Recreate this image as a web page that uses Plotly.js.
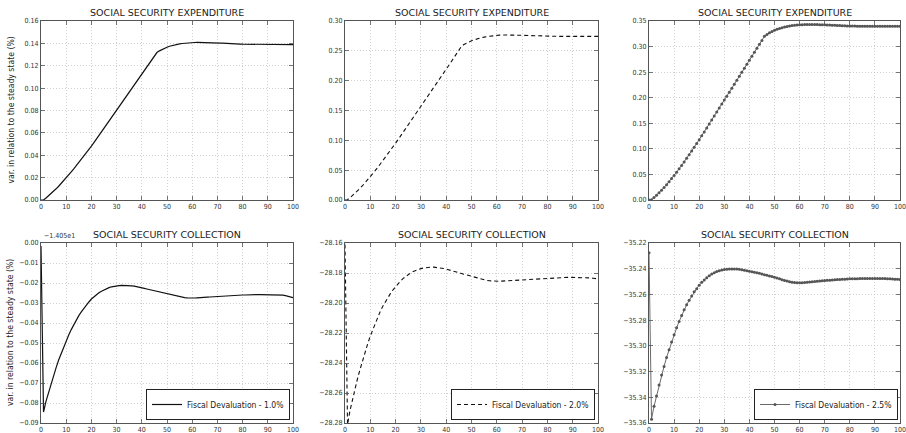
<!DOCTYPE html>
<html>
<head>
<meta charset="utf-8">
<script src="https://cdn.plot.ly/plotly-3.0.1.min.js"></script>
<style>html,body{margin:0;padding:0;background:#fff;}#chart{width:906px;height:433px;}</style>
</head>
<body>
<div id="chart"></div>
<script>
const periods = Array.from({length: 101}, (_, i) => i);

const panelTitles = ["SOCIAL SECURITY EXPENDITURE", "SOCIAL SECURITY EXPENDITURE", "SOCIAL SECURITY EXPENDITURE",
                     "SOCIAL SECURITY COLLECTION", "SOCIAL SECURITY COLLECTION", "SOCIAL SECURITY COLLECTION"];
const seriesNames = ["Fiscal Devaluation - 1.0%", "Fiscal Devaluation - 2.0%", "Fiscal Devaluation - 2.5%"];
const yAxisLabel = "var. in relation to the steady state (%)";
const offsetLabel = "\u22121.405e1";

const expFD10 = [0.0000,0.0000,0.0018,0.0037,0.0057,0.0078,0.0100,0.0123,0.0147,0.0172,
 0.0198,0.0224,0.0251,0.0278,0.0306,0.0334,0.0363,0.0392,0.0421,0.0451,
 0.0481,0.0513,0.0545,0.0578,0.0611,0.0644,0.0677,0.0710,0.0743,0.0776,
 0.0809,0.0841,0.0873,0.0905,0.0937,0.0969,0.1001,0.1033,0.1065,0.1097,
 0.1129,0.1160,0.1191,0.1222,0.1253,0.1285,0.1318,0.1333,0.1346,0.1357,
 0.1366,0.1374,0.1381,0.1387,0.1392,0.1396,0.1399,0.1402,0.1404,0.1406,
 0.1407,0.1408,0.1409,0.1409,0.1409,0.1409,0.1408,0.1407,0.1406,0.1405,
 0.1404,0.1403,0.1402,0.1400,0.1399,0.1398,0.1397,0.1396,0.1395,0.1394,
 0.1393,0.1393,0.1392,0.1392,0.1391,0.1391,0.1391,0.1390,0.1390,0.1390,
 0.1390,0.1390,0.1390,0.1390,0.1389,0.1389,0.1389,0.1389,0.1389,0.1389,
 0.1389];

const expFD20 = [0.0000,0.0005,0.0038,0.0075,0.0114,0.0155,0.0198,0.0243,0.0290,0.0339,
 0.0390,0.0442,0.0495,0.0549,0.0604,0.0660,0.0717,0.0775,0.0834,0.0893,
 0.0953,0.1013,0.1074,0.1135,0.1197,0.1259,0.1321,0.1383,0.1446,0.1509,
 0.1572,0.1635,0.1698,0.1760,0.1822,0.1884,0.1946,0.2008,0.2069,0.2130,
 0.2190,0.2254,0.2318,0.2382,0.2446,0.2510,0.2574,0.2605,0.2630,0.2651,
 0.2669,0.2685,0.2699,0.2711,0.2721,0.2730,0.2738,0.2745,0.2751,0.2756,
 0.2760,0.2763,0.2765,0.2766,0.2767,0.2767,0.2766,0.2765,0.2764,0.2762,
 0.2760,0.2758,0.2756,0.2754,0.2752,0.2750,0.2749,0.2748,0.2747,0.2746,
 0.2745,0.2744,0.2744,0.2743,0.2743,0.2743,0.2742,0.2742,0.2742,0.2742,
 0.2742,0.2742,0.2742,0.2742,0.2742,0.2742,0.2742,0.2742,0.2742,0.2742,
 0.2742];

const expFD25 = [0.0000,0.0005,0.0048,0.0094,0.0142,0.0192,0.0245,0.0300,0.0358,0.0418,
 0.0480,0.0544,0.0610,0.0677,0.0745,0.0815,0.0886,0.0958,0.1031,0.1105,
 0.1180,0.1256,0.1332,0.1409,0.1486,0.1563,0.1641,0.1719,0.1797,0.1875,
 0.1953,0.2031,0.2109,0.2187,0.2265,0.2343,0.2421,0.2499,0.2577,0.2655,
 0.2733,0.2811,0.2889,0.2966,0.3043,0.3120,0.3200,0.3238,0.3270,0.3297,
 0.3319,0.3338,0.3355,0.3369,0.3382,0.3393,0.3402,0.3410,0.3417,0.3422,
 0.3426,0.3429,0.3431,0.3432,0.3433,0.3433,0.3432,0.3431,0.3429,0.3427,
 0.3425,0.3422,0.3420,0.3417,0.3415,0.3412,0.3410,0.3408,0.3406,0.3404,
 0.3402,0.3401,0.3400,0.3399,0.3398,0.3397,0.3397,0.3396,0.3396,0.3396,
 0.3396,0.3396,0.3396,0.3396,0.3396,0.3396,0.3396,0.3395,0.3395,0.3395,
 0.3395];

// bottom-left panel: values relative to the offset -1.405e1
const colFD10 = [-0.0015,-0.0845,-0.0791,-0.0747,-0.0701,-0.0659,-0.0623,-0.0585,-0.0552,-0.0520,
 -0.0489,-0.0460,-0.0433,-0.0408,-0.0384,-0.0363,-0.0344,-0.0326,-0.0308,-0.0295,
 -0.0280,-0.0268,-0.0258,-0.0249,-0.0241,-0.0234,-0.0228,-0.0223,-0.0219,-0.0216,
 -0.0214,-0.0213,-0.0212,-0.0212,-0.0212,-0.0213,-0.0214,-0.0216,-0.0218,-0.0221,
 -0.0224,-0.0227,-0.0230,-0.0233,-0.0236,-0.0240,-0.0243,-0.0246,-0.0249,-0.0252,
 -0.0255,-0.0258,-0.0261,-0.0264,-0.0267,-0.0269,-0.0271,-0.0273,-0.0274,-0.0275,
 -0.0275,-0.0275,-0.0274,-0.0274,-0.0273,-0.0272,-0.0271,-0.0270,-0.0269,-0.0268,
 -0.0267,-0.0266,-0.0265,-0.0264,-0.0264,-0.0263,-0.0262,-0.0262,-0.0261,-0.0261,
 -0.0260,-0.0260,-0.0259,-0.0259,-0.0259,-0.0258,-0.0258,-0.0258,-0.0258,-0.0258,
 -0.0258,-0.0258,-0.0258,-0.0259,-0.0259,-0.0260,-0.0261,-0.0263,-0.0266,-0.0269,
 -0.0273];

const colFD20 = [-28.1610,-28.2810,-28.2715,-28.2640,-28.2570,-28.2500,-28.2440,-28.2380,-28.2325,-28.2270,
 -28.2220,-28.2175,-28.2130,-28.2090,-28.2053,-28.2020,-28.1990,-28.1962,-28.1936,-28.1912,
 -28.1890,-28.1870,-28.1852,-28.1836,-28.1822,-28.1810,-28.1799,-28.1790,-28.1782,-28.1776,
 -28.1771,-28.1767,-28.1764,-28.1762,-28.1761,-28.1761,-28.1762,-28.1764,-28.1767,-28.1770,
 -28.1774,-28.1778,-28.1783,-28.1788,-28.1793,-28.1798,-28.1803,-28.1808,-28.1813,-28.1818,
 -28.1823,-28.1828,-28.1833,-28.1838,-28.1842,-28.1846,-28.1849,-28.1852,-28.1854,-28.1855,
 -28.1855,-28.1855,-28.1854,-28.1853,-28.1852,-28.1851,-28.1849,-28.1848,-28.1846,-28.1845,
 -28.1843,-28.1842,-28.1840,-28.1839,-28.1838,-28.1837,-28.1836,-28.1835,-28.1834,-28.1833,
 -28.1832,-28.1831,-28.1831,-28.1830,-28.1830,-28.1830,-28.1829,-28.1829,-28.1829,-28.1829,
 -28.1829,-28.1829,-28.1829,-28.1830,-28.1830,-28.1831,-28.1832,-28.1833,-28.1835,-28.1837,
 -28.1839];

const colFD25 = [-35.2275,-35.3570,-35.3470,-35.3390,-35.3305,-35.3227,-35.3160,-35.3090,-35.3030,-35.2970,
 -35.2914,-35.2860,-35.2810,-35.2763,-35.2720,-35.2680,-35.2646,-35.2612,-35.2580,-35.2555,
 -35.2528,-35.2506,-35.2487,-35.2470,-35.2455,-35.2442,-35.2431,-35.2422,-35.2415,-35.2410,
 -35.2406,-35.2404,-35.2403,-35.2402,-35.2402,-35.2403,-35.2405,-35.2408,-35.2411,-35.2415,
 -35.2419,-35.2423,-35.2427,-35.2432,-35.2436,-35.2441,-35.2446,-35.2451,-35.2456,-35.2461,
 -35.2467,-35.2473,-35.2479,-35.2485,-35.2491,-35.2496,-35.2501,-35.2505,-35.2508,-35.2510,
 -35.2510,-35.2509,-35.2508,-35.2506,-35.2504,-35.2502,-35.2500,-35.2498,-35.2496,-35.2494,
 -35.2492,-35.2490,-35.2489,-35.2487,-35.2486,-35.2484,-35.2483,-35.2482,-35.2481,-35.2480,
 -35.2479,-35.2479,-35.2478,-35.2478,-35.2477,-35.2477,-35.2476,-35.2476,-35.2476,-35.2476,
 -35.2476,-35.2476,-35.2476,-35.2477,-35.2477,-35.2478,-35.2479,-35.2480,-35.2481,-35.2482,
 -35.2483];

const yRanges = [[0, 0.16], [0, 0.30], [0, 0.35], [-0.09, 0], [-28.28, -28.16], [-35.36, -35.22]];
const yDticks = [0.02, 0.05, 0.05, 0.01, 0.02, 0.02];
const xTickVals = [0, 10, 20, 30, 40, 50, 60, 70, 80, 90, 100];

const W = 906, H = 433;
const colPx = [[41, 293], [345, 598], [649, 900]];
const rowPx = [[21, 200], [243, 423]];
const FONT = "'DejaVu Sans Condensed', 'Liberation Sans Narrow', 'DejaVu Sans', sans-serif";
const TFONT = "'DejaVu Sans', sans-serif";

const layout = {
  width: W, height: H,
  margin: {l: 0, r: 0, t: 0, b: 0},
  paper_bgcolor: '#ffffff', plot_bgcolor: '#ffffff',
  showlegend: true,
  font: {family: FONT, size: 7, color: '#222'},
  annotations: [],
};

for (let i = 0; i < 6; i++) {
  const r = Math.floor(i / 3), c = i % 3;
  const sfx = i === 0 ? '' : String(i + 1);
  const xd = [colPx[c][0] / W, colPx[c][1] / W];
  const yd = [1 - rowPx[r][1] / H, 1 - rowPx[r][0] / H];
  const common = {
    showline: true, linecolor: '#555', linewidth: 1, mirror: 'ticks',
    ticks: 'inside', ticklen: 4, tickcolor: '#555', tickwidth: 0.8,
    showgrid: true, gridcolor: '#c4c4c4', griddash: '1px,2px', gridwidth: 0.8,
    zeroline: false, fixedrange: true, ticklabeloverflow: 'allow',
    tickfont: {family: FONT, size: 7, color: '#333'},
  };
  layout['xaxis' + sfx] = Object.assign({}, common, {
    domain: xd, anchor: 'y' + sfx, range: [0, 100],
    tickmode: 'array', tickvals: xTickVals, ticktext: xTickVals.map(String),
  });
  layout['yaxis' + sfx] = Object.assign({}, common, {
    domain: yd, anchor: 'x' + sfx, range: yRanges[i],
    tick0: yRanges[i][0], dtick: yDticks[i], tickformat: '.2f',
  });
  layout.annotations.push({
    xref: 'paper', yref: 'paper', x: (xd[0] + xd[1]) / 2, y: yd[1],
    xanchor: 'center', yanchor: 'bottom', yshift: 1,
    text: panelTitles[i], showarrow: false,
    font: {family: TFONT, size: 9.5, color: '#1a1a1a'},
  });
}

// y axis labels (left column)
[0, 1].forEach(r => {
  layout.annotations.push({
    xref: 'paper', yref: 'paper', x: 10 / W, y: 1 - (rowPx[r][0] + rowPx[r][1]) / 2 / H,
    xanchor: 'center', yanchor: 'middle', textangle: -90,
    text: yAxisLabel, showarrow: false,
    font: {family: FONT, size: 8.6, color: '#222'},
  });
});
// offset text for bottom-left panel
layout.annotations.push({
  xref: 'paper', yref: 'paper', x: 42 / W, y: 1 - 243 / H,
  xanchor: 'left', yanchor: 'bottom', yshift: 1, text: offsetLabel, showarrow: false,
  font: {family: FONT, size: 7, color: '#333'},
});

const legendBase = {
  bgcolor: '#ffffff', bordercolor: '#222', borderwidth: 1,
  font: {family: FONT, size: 8.5, color: '#222'},
  xanchor: 'right', yanchor: 'bottom', itemwidth: 30, tracegroupgap: 0,
  itemclick: false, itemdoubleclick: false,
};
layout.legend = Object.assign({}, legendBase, {x: 290 / W, y: 1 - 420 / H});
layout.legend2 = Object.assign({}, legendBase, {x: 595 / W, y: 1 - 420 / H});
layout.legend3 = Object.assign({}, legendBase, {x: 898 / W, y: 1 - 420 / H});

const styles = [
  {mode: 'lines', line: {color: '#111', width: 1.2, dash: 'solid'}},
  {mode: 'lines', line: {color: '#111', width: 1.1, dash: '4px,3px'}},
  {mode: 'lines+markers', line: {color: '#6a6a6a', width: 1}, marker: {symbol: 'circle', size: 3, color: '#555'}},
];
const expSeries = [expFD10, expFD20, expFD25];
const colSeries = [colFD10, colFD20, colFD25];
const legendIds = ['legend', 'legend2', 'legend3'];

const traces = [];
for (let c = 0; c < 3; c++) {
  const sTop = c === 0 ? '' : String(c + 1);
  const sBot = String(c + 4);
  traces.push(Object.assign({
    x: periods, y: expSeries[c], xaxis: 'x' + sTop, yaxis: 'y' + sTop,
    name: seriesNames[c], showlegend: false, hoverinfo: 'skip',
  }, styles[c]));
  traces.push(Object.assign({
    x: periods, y: colSeries[c], xaxis: 'x' + sBot, yaxis: 'y' + sBot,
    name: seriesNames[c], showlegend: true, legend: legendIds[c], hoverinfo: 'skip',
  }, styles[c]));
}

Plotly.newPlot('chart', traces, layout, {staticPlot: true, displayModeBar: false});
</script>
</body>
</html>
